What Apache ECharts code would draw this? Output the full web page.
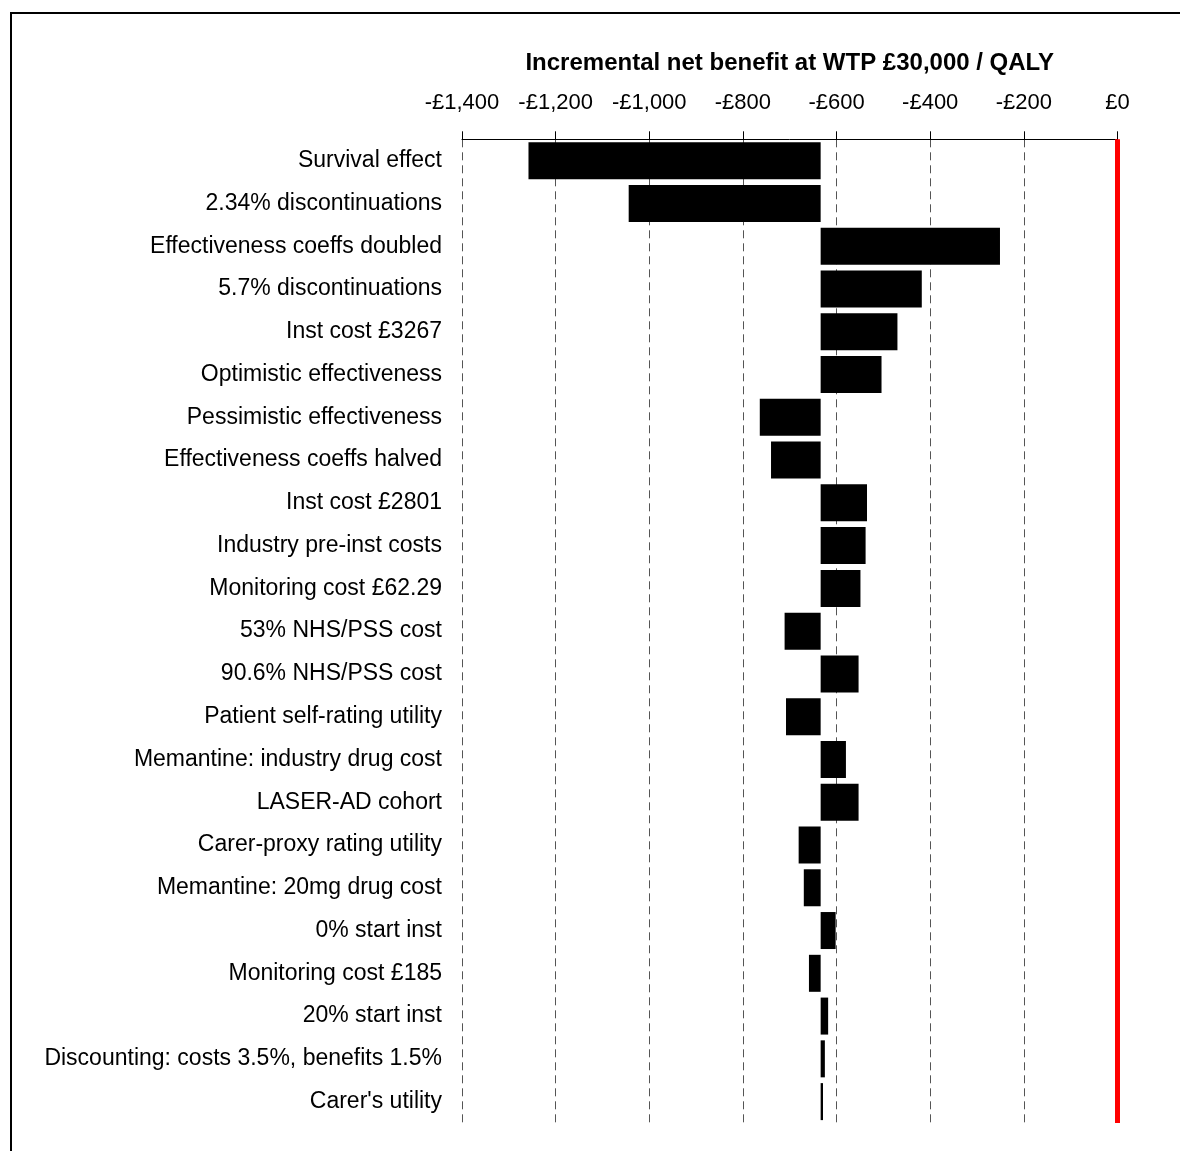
<!DOCTYPE html>
<html>
<head>
<meta charset="utf-8">
<script src="https://cdn.jsdelivr.net/npm/echarts@6/dist/echarts.min.js"></script>
<style>
html,body{margin:0;padding:0;background:#fff;}
#chart{width:1180px;height:1151px;}
</style>
</head>
<body>
<div id="chart"></div>
<script>
const categories = [
  "Survival effect",
  "2.34% discontinuations",
  "Effectiveness coeffs doubled",
  "5.7% discontinuations",
  "Inst cost £3267",
  "Optimistic effectiveness",
  "Pessimistic effectiveness",
  "Effectiveness coeffs halved",
  "Inst cost £2801",
  "Industry pre-inst costs",
  "Monitoring cost £62.29",
  "53% NHS/PSS cost",
  "90.6% NHS/PSS cost",
  "Patient self-rating utility",
  "Memantine: industry drug cost",
  "LASER-AD cohort",
  "Carer-proxy rating utility",
  "Memantine: 20mg drug cost",
  "0% start inst",
  "Monitoring cost £185",
  "20% start inst",
  "Discounting: costs 3.5%, benefits 1.5%",
  "Carer's utility"
];
const values = [-1258, -1044, -251, -418, -470, -504, -764, -740, -535, -538, -549, -711, -553, -708, -580, -553, -681, -670, -602, -659, -618, -625, -629];
const baseline = -634;
const tickValues = [-1400, -1200, -1000, -800, -600, -400, -200, 0];
const threshold = 0;

const chart = echarts.init(document.getElementById('chart'), null, {renderer: 'canvas'});
const font = '"Liberation Sans", Arial, sans-serif';

const fmt = v => (v < 0 ? '-' : '') + '£' + Math.abs(v).toLocaleString('en-GB');

chart.setOption({
  animation: false,
  backgroundColor: '#fff',
  textStyle: {fontFamily: font},
  graphic: [{
    type: 'polyline',
    shape: {points: [[11, 1200], [11, 13], [1200, 13]]},
    style: {stroke: '#000', lineWidth: 2, fill: null}
  }],
  grid: {left: 462, right: 62.5, top: 139.3, bottom: 28, containLabel: false},
  xAxis: {
    type: 'value',
    position: 'top',
    min: tickValues[0],
    max: tickValues[tickValues.length - 1],
    interval: 200,
    name: 'Incremental net benefit at WTP £30,000 / QALY',
    nameLocation: 'middle',
    nameGap: 64,
    nameTextStyle: {fontSize: 24, fontWeight: 'bold', color: '#000', fontFamily: font},
    axisLine: {show: true, lineStyle: {color: '#000', width: 1}},
    axisTick: {show: true, inside: false, length: 8, lineStyle: {color: '#000'}},
    axisLabel: {margin: 25, fontSize: 22, color: '#000', fontFamily: font, formatter: fmt},
    splitLine: {show: true, lineStyle: {color: '#555', width: 1, type: [8, 5]}}
  },
  yAxis: {
    type: 'category',
    data: categories,
    inverse: true,
    axisLine: {show: false},
    axisTick: {show: false},
    splitLine: {show: false},
    axisLabel: {margin: 20, fontSize: 23, color: '#000', fontFamily: font}
  },
  series: [{
    type: 'custom',
    data: values.map((v, i) => [v, i]),
    encode: {x: 0, y: 1},
    renderItem: function (params, api) {
      const v = api.value(0);
      const idx = api.value(1);
      const p1 = api.coord([baseline, idx]);
      const p2 = api.coord([v, idx]);
      const h = api.size([0, 1])[1] * 0.865;
      const x = Math.min(p1[0], p2[0]);
      const w = Math.abs(p2[0] - p1[0]);
      return {
        type: 'rect',
        shape: {x: x, y: p1[1] - h / 2, width: w, height: h},
        style: {fill: '#000'}
      };
    },
    markLine: {
      silent: true,
      symbol: ['none', 'none'],
      label: {show: false},
      lineStyle: {color: '#ff0000', width: 5, type: 'solid'},
      data: [{xAxis: threshold}]
    },
    z: 3
  }]
});
</script>
</body>
</html>
